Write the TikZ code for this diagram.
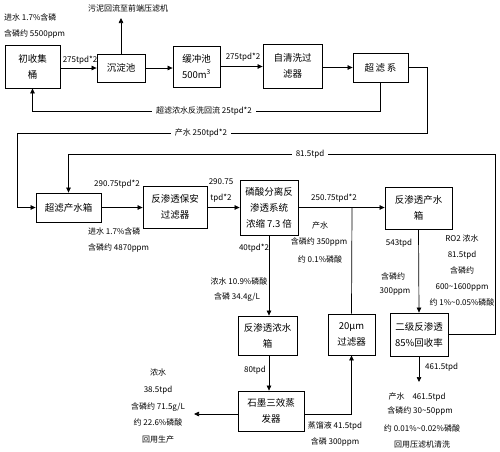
\documentclass[tikz,border=0pt]{standalone}
\usepackage{fontspec}
\setmainfont{Noto Sans CJK SC}
\usetikzlibrary{arrows.meta,positioning}

\begin{document}
\begin{tikzpicture}[x=1pt,y=-1pt,
  box/.style={draw,line width=0.8pt,align=center,inner sep=0pt,font=\fontsize{9.5}{16}\selectfont},
  wh/.style 2 args={minimum width=#1pt,minimum height=#2pt},
  lbl/.style={inner sep=1pt,font=\fontsize{8}{10}\selectfont},
  flow/.style={line width=0.7pt,-{Triangle[length=5pt,width=4.5pt]}},
  pipe/.style={line width=0.7pt}]
\useasboundingbox (0,0) rectangle (500,451);
% boxes
\node[box,wh={55}{43}] (chushou) at (32.5,66.5) {初收集\\桶};
\node[box,wh={48}{28}] (chendian) at (121,68) {沉淀池};
\node[box,wh={47}{41}] (huanchong) at (196.5,66.5) {缓冲池\\500m\textsuperscript{3}};
\node[box,wh={59}{44}] (zqx) at (292.5,66) {自清洗过\\滤器};
\node[box,wh={55}{29}] (chaolv) at (380.5,67.5) {超\,滤\,系};
\node[box,wh={65}{29}] (clcs) at (68.5,207.5) {超滤产水箱};
\node[box,wh={64}{42}] (baoan) at (175,207) {反渗透保安\\过滤器};
\node[box,wh={58}{55}] (lsfl) at (269,207.5) {磷酸分离反\\渗透系统\\浓缩 7.3 倍};
\node[box,wh={67}{42}] (cscx) at (418.5,208) {反渗透产水\\箱};
\node[box,wh={58}{43}] (erji) at (419,334.5) {二级反渗透\\85\%回收率};
\node[box,wh={59}{39}] (nsx) at (267.5,335.5) {反渗透浓水\\箱};
\node[box,wh={66}{40}] (shimo) at (271,411) {石墨三效蒸\\发器};
\node[box,wh={47}{41}] (lvq) at (351.5,334.5) {20μm\\过滤器};
\coordinate (wuni) at (121,18);
\coordinate (hui) at (352,208);
\coordinate (nongout) at (194,414);
\coordinate (chanout) at (419,382);
% connectors
\draw[flow] (chushou.east |- chendian.west) -- (chendian.west);
\draw[flow] (chendian.north) -- (wuni);
\draw[flow] (chendian.east) -- (chendian.east -| huanchong.west);
\draw[flow] (huanchong.east) -- (huanchong.east -| zqx.west);
\draw[flow] (zqx.east |- chaolv.west) -- (chaolv.west);
\draw[flow] (chaolv.south) -- (chaolv.south |- 0,111) -- (chushou.south |- 0,111) -- (chushou.south);
\draw[flow] (chaolv.east) -- (427,67.5) -- (427,133) -- (17,133) -- (17,207.5) -- (clcs.west);
\draw[flow] (erji.east) -- (495,334.5) -- (495,154) -- (clcs.north |- 0,154) -- (clcs.north);
\draw[flow] (clcs.east) -- (clcs.east -| baoan.west);
\draw[flow] (baoan.east |- lsfl.west) -- (lsfl.west);
\draw[flow] (lsfl.east) -- (lsfl.east -| cscx.west);
\draw[pipe] (lvq.north) -- (hui);
\draw[flow] (lsfl.south) -- (nsx.north -| lsfl.south);
\draw[flow] (nsx.south -| lsfl.south) -- (shimo.north -| lsfl.south);
\draw[flow] (shimo.west |- nongout) -- (nongout);
\draw[flow] (shimo.east |- nongout) -- (lvq.south |- nongout) -- (lvq.south);
\draw[flow] (cscx.south) -- (erji.north);
\draw[flow] (erji.south) -- (chanout);
% labels
\node[lbl,anchor=west] at (3,17) {进水 1.7\%含磷};
\node[lbl,anchor=west] at (3,34) {含磷约 5500ppm};
\node[lbl] at (128,8) {污泥回流至前端压滤机};
\node[lbl] at (80,60) {275tpd*2};
\node[lbl] at (243,57) {275tpd*2};
\node[lbl,fill=white,inner xsep=4pt] at (204,111) {超滤浓水反洗回流 25tpd*2};
\node[lbl,fill=white,inner xsep=4pt] at (201,133) {产水 250tpd*2};
\node[lbl,fill=white,inner xsep=4pt] at (310,154) {81.5tpd};
\node[lbl] at (117,184) {290.75tpd*2};
\node[lbl] at (221,182) {290.75};
\node[lbl] at (221,198) {tpd*2};
\node[lbl,anchor=west] at (87,231) {进水 1.7\%含磷};
\node[lbl,anchor=west] at (87,248) {含磷约 4870ppm};
\node[lbl] at (334,198) {250.75tpd*2};
\node[lbl,anchor=west] at (311,225) {产水};
\node[lbl] at (319,242) {含磷约 350ppm};
\node[lbl] at (320,259) {约 0.1\%磷酸};
\node[lbl] at (254,248) {40tpd*2};
\node[lbl] at (239,281) {浓水 10.9\%磷酸};
\node[lbl] at (237,297) {含磷 34.4g/L};
\node[lbl] at (255,370) {80tpd};
\node[lbl,align=center,font=\fontsize{8}{16.7}\selectfont] at (158,406)
  {浓水\\38.5tpd\\含磷约 71.5g/L\\约 22.6\%磷酸\\回用生产};
\node[lbl] at (335,426) {蒸馏液 41.5tpd};
\node[lbl] at (335,442) {含磷 300ppm};
\node[lbl] at (399,243) {543tpd};
\node[lbl] at (393,276) {含磷约};
\node[lbl] at (395,292) {300ppm};
\node[lbl,align=center,font=\fontsize{8}{16}\selectfont] at (462,270)
  {RO2 浓水\\81.5tpd\\含磷约\\600\textasciitilde1600ppm\\约 1\%\textasciitilde0.05\%磷酸};
\node[lbl,anchor=west] at (424,367) {461.5tpd};
\node[lbl] at (417,397) {产水\quad461.5tpd};
\node[lbl] at (420,411) {含磷约 30\textasciitilde50ppm};
\node[lbl] at (422,428) {约 0.01\%\textasciitilde0.02\%磷酸};
\node[lbl] at (422,444) {回用压滤机清洗};
\end{tikzpicture}
\end{document}
